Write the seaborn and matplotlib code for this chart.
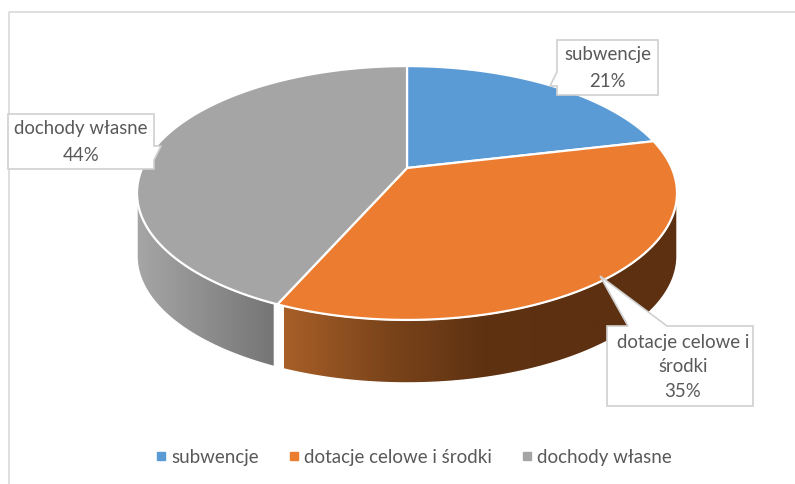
import numpy as np
import matplotlib
matplotlib.use("Agg")
import matplotlib.pyplot as plt
import seaborn as sns
from matplotlib.colors import LinearSegmentedColormap
from matplotlib.lines import Line2D
from matplotlib.patches import Polygon

categories = ["subwencje", "dotacje celowe i środki", "dochody własne"]
values = [21.4, 35.4, 43.6]
colors = ["#5B9BD5", "#EC7C30", "#A5A5A5"]
label_texts = ["subwencje\n21%", "dotacje celowe i\nśrodki\n35%", "dochody własne\n44%"]

TEXT = "#595959"
APEX = (407, 168)
DEPTH = 63
TILT = 0.197

sns.set_theme(style="white")
plt.rcParams["font.family"] = ["Lato", "DejaVu Sans"]

fig = plt.figure(figsize=(7.95, 4.84), dpi=100)
ax = fig.add_axes([0, 0, 1, 1])
ax.set_xlim(0, 795)
ax.set_ylim(484, 0)
ax.axis("off")


# perspective view of the round pie, angle in degrees clockwise from the top
def rim(angle):
    t = np.radians(angle)
    x, y = np.sin(t), np.cos(t)
    w = 1 + TILT * y
    return np.column_stack([APEX[0] + 264.7 * x / w, APEX[1] - 122 * y / w])


def gradient(poly, stops, x0, x1):
    cmap = LinearSegmentedColormap.from_list("side", stops)
    im = ax.imshow(np.linspace(0, 1, 256)[None, :], cmap=cmap, aspect="auto",
                   extent=(x0, x1, 484, 0), zorder=2)
    patch = Polygon(poly, transform=ax.transData, fc="none", ec="none")
    ax.add_patch(patch)
    im.set_clip_path(patch)
    ax.add_patch(Polygon(poly, fc="none", ec="white", lw=1.0, zorder=2.5))


# only left and top of the chart frame are inside the picture
ax.plot([8.5, 8.5, 795], [484, 12, 12], color="#D9D9D9", lw=1.2, zorder=0)

cuts = np.cumsum([0] + values) / np.sum(values) * 360
side = np.degrees(np.arccos(-TILT))

# side walls first, the tops are drawn over them
pts = rim(np.linspace(side, cuts[2] - 0.6, 200))
wall = np.vstack([pts, pts[::-1] + [0, DEPTH]])
gradient(wall, ["#A85F28", "#7C451B", "#5F3212", "#5C3011", "#5C3011"], 284, 680)

pts = rim(np.linspace(cuts[2] + 0.6, 360 - side, 200))
wall = np.vstack([pts, pts[::-1] + [0, DEPTH]])
gradient(wall, ["#A6A6A6", "#737373"], 137, 280)

for i, color in enumerate(colors):
    arc = rim(np.linspace(cuts[i], cuts[i + 1], 200))
    ax.add_patch(Polygon(np.vstack([APEX, arc]), fc=color, ec="white", lw=1.6, zorder=3))

# callouts
boxes = [
    [(557, 40), (658, 40), (658, 95), (557, 95), (557, 86), (550, 86), (557, 72)],
    [(607, 326), (628, 326), (600, 276), (667, 326), (753, 326), (753, 406), (607, 406)],
    [(8, 114), (154, 114), (154, 146), (161, 146), (154, 160), (154, 169), (8, 169)],
]
for box in boxes:
    ax.add_patch(Polygon(box, fc="white", ec="#D0D0D0", lw=1.2, zorder=4))

label_pos = [(608, 68), (683, 367), (81, 142)]
for (x, y), s, sp in zip(label_pos, label_texts, [1.65, 1.55, 1.65]):
    ax.text(x, y, s, ha="center", va="center", fontsize=13.4, color=TEXT,
            linespacing=sp, zorder=5)

handles = [Line2D([], [], ls="none", marker="s", ms=5.5, color=c) for c in colors]
ax.legend(handles, categories, loc="center", bbox_to_anchor=(412, 457),
          bbox_transform=ax.transData, ncol=3, frameon=False, fontsize=13.5,
          labelcolor=TEXT, handletextpad=0.05, columnspacing=1.35, handlelength=1.0)

fig.savefig("out.png", dpi=100)
